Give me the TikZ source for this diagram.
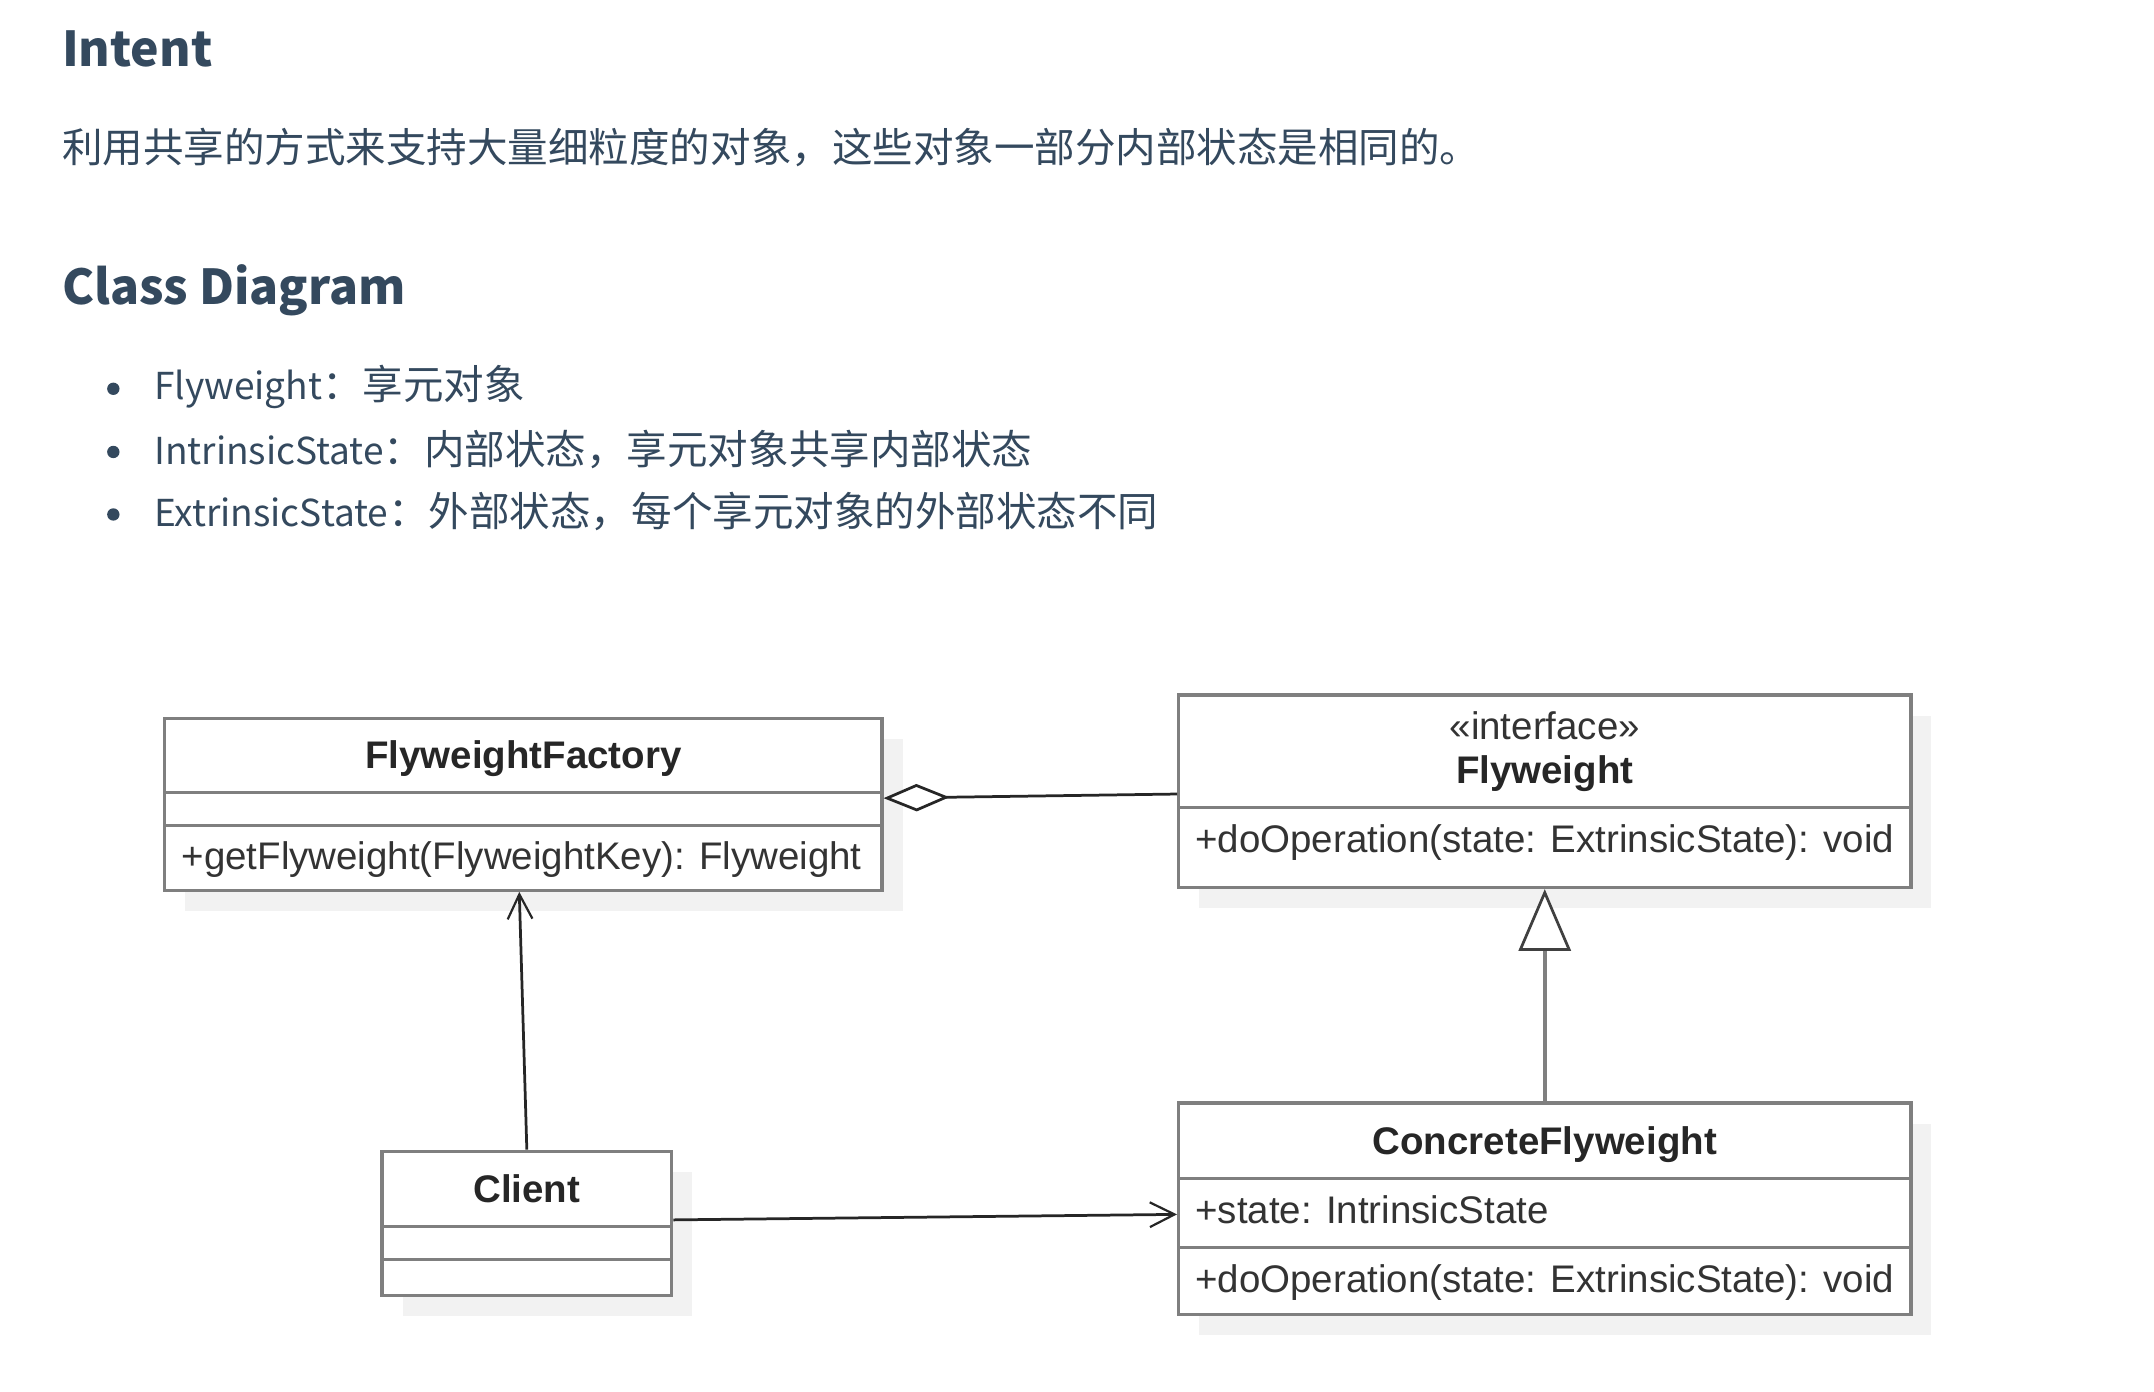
\documentclass[tikz,border=0pt]{standalone}
\usepackage{fontspec}
\setmainfont{Liberation Sans}
\newfontfamily\cjk{Noto Sans CJK SC}
\usetikzlibrary{arrows.meta,shadows}
\definecolor{textblue}{HTML}{34495E}
\definecolor{umlgray}{HTML}{7F7F7F}
\definecolor{shadowgray}{HTML}{F2F2F2}
\newcommand\latinpart[1]{{\fontsize{27}{34}\selectfont #1}}
\tikzset{
  classbox/.style={draw=umlgray, line width=2.4pt, fill=white, inner sep=0pt,
    drop shadow={shadow xshift=15pt, shadow yshift=-15pt, fill=shadowgray, opacity=1}},
  divider/.style={draw=umlgray, line width=2.4pt},
  uml/.style={font=\fontsize{28}{32}\selectfont, text=black!80, inner sep=0pt},
  umlname/.style={font=\fontsize{28}{32}\selectfont\bfseries, text=black!85, inner sep=0pt},
  heading/.style={font=\cjk\fontsize{35}{42}\selectfont\bfseries, text=textblue, inner sep=0pt, anchor=base west},
  body/.style={font=\cjk\fontsize{29.5}{34}\selectfont, text=textblue, inner sep=0pt, anchor=base west},
  bullet/.style={circle, fill=textblue, inner sep=0pt, minimum size=9pt},
  aggr/.style={{Diamond[length=48pt, width=20pt, open, fill=white, line width=2pt]}-, draw=black!85, line width=2pt},
  assoc/.style={-{Straight Barb[length=18pt, width=18pt, line width=1.6pt]}, draw=black!85, line width=2pt},
  inherit/.style={-{Triangle[length=45pt, width=38pt, open, fill=white, line width=2pt, color=black!75]}, draw=umlgray, line width=3pt}
}
\begin{document}
\begin{tikzpicture}[x=1pt, y=-1pt]
\useasboundingbox (0,0) rectangle (1568,1013);

\node[heading] (intent) at (45,48.5) {Intent};
\node[body] (intenttext) at (45,118) {利用共享的方式来支持大量细粒度的对象，这些对象一部分内部状态是相同的。};
\node[heading] (classdiag) at (45,222) {Class Diagram};
\node[bullet] (dot1) at (82.5,283) {};
\node[body] (item1) at (112,291) {\latinpart{Flyweight}：享元对象};
\node[bullet] (dot2) at (82.5,329) {};
\node[body] (item2) at (112,338) {\latinpart{IntrinsicState}：内部状态，享元对象共享内部状态};
\node[bullet] (dot3) at (82.5,374.5) {};
\node[body] (item3) at (112,383.5) {\latinpart{ExtrinsicState}：外部状态，每个享元对象的外部状态不同};

\node[classbox, minimum width=522pt, minimum height=125pt] (factory) at (381,585.5) {};
\draw[divider] (factory.west |- 0,577) -- (factory.east |- 0,577);
\draw[divider] (factory.west |- 0,601) -- (factory.east |- 0,601);
\node[umlname, anchor=mid] (factoryname) at (381,557) {FlyweightFactory};
\node[uml, anchor=mid west] (factoryop) at (132,630) {+getFlyweight(FlyweightKey): Flyweight};

\node[classbox, minimum width=533pt, minimum height=140pt] (flyweight) at (1124.5,576) {};
\draw[divider] (flyweight.west |- 0,588) -- (flyweight.east |- 0,588);
\node[uml, anchor=mid] (stereo) at (1124.5,536) {«interface»};
\node[umlname, anchor=mid] (flyweightname) at (1124.5,568) {Flyweight};
\node[uml, anchor=mid west] (flyweightop) at (870,618) {+doOperation(state: ExtrinsicState): void};

\node[classbox, minimum width=533pt, minimum height=154pt] (concrete) at (1124.5,880) {};
\draw[divider] (concrete.west |- 0,858) -- (concrete.east |- 0,858);
\draw[divider] (concrete.west |- 0,908) -- (concrete.east |- 0,908);
\node[umlname, anchor=mid] (concretename) at (1124.5,838) {ConcreteFlyweight};
\node[uml, anchor=mid west] (concreteattr) at (870,888) {+state: IntrinsicState};
\node[uml, anchor=mid west] (concreteop) at (870,938) {+doOperation(state: ExtrinsicState): void};

\node[classbox, minimum width=211pt, minimum height=105pt] (client) at (383.5,890.5) {};
\draw[divider] (client.west |- 0,893) -- (client.east |- 0,893);
\draw[divider] (client.west |- 0,917) -- (client.east |- 0,917);
\node[umlname, anchor=mid] (clientname) at (383.5,873) {Client};

\draw[aggr] ([yshift=4.5pt]factory.east) -- ([yshift=-2pt]flyweight.west);
\draw[assoc] (client.north) -- ([xshift=-3pt]factory.south);
\draw[assoc] ([yshift=2.5pt]client.east) -- ([yshift=-4pt]concrete.west);
\draw[inherit] (concrete.north) -- (flyweight.south);
\end{tikzpicture}
\end{document}
